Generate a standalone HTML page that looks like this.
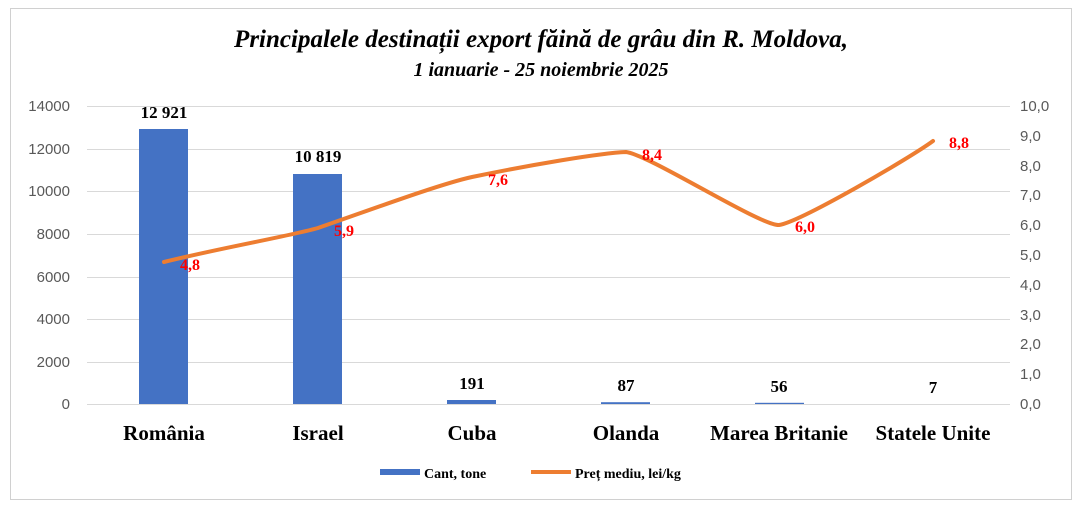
<!DOCTYPE html><html><head><meta charset="utf-8"><style>body{margin:0;background:#fff}</style></head><body>
<svg width="1082" height="510" xmlns="http://www.w3.org/2000/svg" font-family="Liberation Serif, serif">
<rect x="10.5" y="8.5" width="1061" height="491" fill="#fff" stroke="#d0d0d0"/>
<text x="541" y="47" text-anchor="middle" font-size="25" font-weight="bold" font-style="italic">Principalele destinații export făină de grâu din R. Moldova,</text>
<text x="541" y="76" text-anchor="middle" font-size="20" font-weight="bold" font-style="italic">1 ianuarie  - 25 noiembrie 2025</text>
<g stroke="#d9d9d9" stroke-width="1">
<line x1="87" x2="1010" y1="106.5" y2="106.5"/><line x1="87" x2="1010" y1="149.5" y2="149.5"/><line x1="87" x2="1010" y1="191.5" y2="191.5"/><line x1="87" x2="1010" y1="234.5" y2="234.5"/><line x1="87" x2="1010" y1="277.5" y2="277.5"/><line x1="87" x2="1010" y1="319.5" y2="319.5"/><line x1="87" x2="1010" y1="362.5" y2="362.5"/><line x1="87" x2="1010" y1="404.5" y2="404.5"/>
</g>
<g font-family="Liberation Sans, sans-serif" font-size="15" fill="#595959" text-anchor="end">
<text x="70" y="111">14000</text><text x="70" y="154">12000</text><text x="70" y="196">10000</text><text x="70" y="239">8000</text><text x="70" y="282">6000</text><text x="70" y="324">4000</text><text x="70" y="367">2000</text><text x="70" y="409">0</text>
</g>
<g font-family="Liberation Sans, sans-serif" font-size="15" fill="#595959" text-anchor="start">
<text x="1020" y="111">10,0</text><text x="1020" y="141">9,0</text><text x="1020" y="171">8,0</text><text x="1020" y="200">7,0</text><text x="1020" y="230">6,0</text><text x="1020" y="260">5,0</text><text x="1020" y="290">4,0</text><text x="1020" y="320">3,0</text><text x="1020" y="349">2,0</text><text x="1020" y="379">1,0</text><text x="1020" y="409">0,0</text>
</g>
<g fill="#4472c4">
<rect x="139" y="129" width="49" height="275"/><rect x="293" y="174" width="49" height="230"/><rect x="447" y="400" width="49" height="4"/><rect x="601" y="402.2" width="49" height="1.8"/><rect x="755" y="402.8" width="49" height="1.2"/>
</g>
<g font-size="17" font-weight="bold" text-anchor="middle">
<text x="164" y="118">12 921</text><text x="318" y="162">10 819</text><text x="472" y="389">191</text><text x="626" y="391">87</text><text x="779" y="392">56</text><text x="933" y="393">7</text>
</g>
<path d="M164,262 C220,248 290,236 318,228 C370,210 440,184 472,177 C530,165 600,153 626,152 C650,155 760,226 779,225 C800,222 910,158 933,141" fill="none" stroke="#ed7d31" stroke-width="4" stroke-linecap="round"/>
<g font-size="16" font-weight="bold" fill="#ff0000">
<text x="180" y="270">4,8</text><text x="334" y="236">5,9</text><text x="488" y="185">7,6</text><text x="642" y="160">8,4</text><text x="795" y="232">6,0</text><text x="949" y="148">8,8</text>
</g>
<g font-size="21" font-weight="bold" text-anchor="middle">
<text x="164" y="440">România</text><text x="318" y="440">Israel</text><text x="472" y="440">Cuba</text><text x="626" y="440">Olanda</text><text x="779" y="440">Marea Britanie</text><text x="933" y="440">Statele Unite</text>
</g>
<rect x="380" y="469" width="40" height="6" fill="#4472c4"/>
<text x="424" y="478" font-size="14" font-weight="bold">Cant, tone</text>
<line x1="531" x2="571" y1="472" y2="472" stroke="#ed7d31" stroke-width="4"/>
<text x="575" y="478" font-size="14" font-weight="bold">Preț mediu, lei/kg</text>
</svg></body></html>
